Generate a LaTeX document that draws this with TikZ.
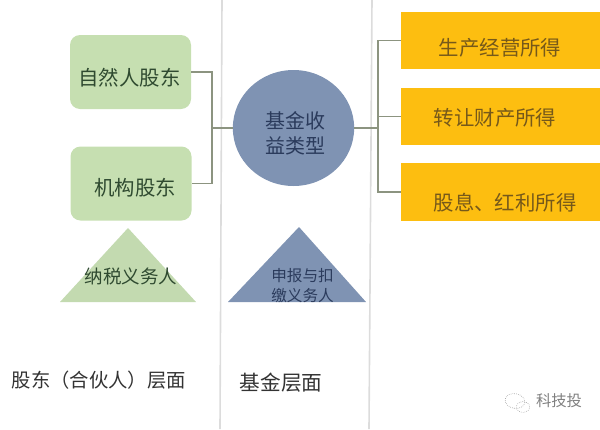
\documentclass[tikz,border=0pt]{standalone}
\usepackage{fontspec}
\setmainfont{Noto Sans CJK SC}
\usetikzlibrary{positioning, calc, shapes.geometric}

\definecolor{boxgreen}{HTML}{C6DFB1}
\definecolor{trigreen}{HTML}{C3DAB0}
\definecolor{textgreen}{HTML}{2F4A30}
\definecolor{fundblue}{HTML}{7F93B3}
\definecolor{textblue}{HTML}{2B3B5C}
\definecolor{incomeorange}{HTML}{FDBE10}
\definecolor{textorange}{HTML}{76591A}
\definecolor{linkgray}{HTML}{8C9480}
\definecolor{rulegray}{HTML}{DCDCDC}

\tikzset{
  holder/.style={fill=boxgreen, rounded corners=7.5pt, minimum width=90.75pt, minimum height=55.5pt, inner sep=0pt},
  income/.style={fill=incomeorange, minimum width=149.25pt, minimum height=43pt, inner sep=0pt},
  fund/.style={ellipse, fill=fundblue, minimum width=91pt, minimum height=87pt, inner sep=0pt},
  link/.style={draw=linkgray, line width=1.2pt},
  rule/.style={draw=rulegray, line width=1.2pt},
  word/.style={inner sep=0pt, font=\fontsize{15.3pt}{18pt}\selectfont, align=center}
}

\begin{document}
\begin{tikzpicture}[x=0.75pt, y=-0.75pt]
   \useasboundingbox (0,0) rectangle (600,429);

   % column rules
   \draw[rule] (222,0) -- (220,429);
   \draw[rule] (372,0) -- (369,429);

   % shareholders
   \node[holder] (ziran) at (130.5,72) {};
   \node[holder] (jigou) at (131,183.5) {};
   \node[word, textgreen] (zirantext) at (129.5,78) {自然人股东};
   \node[word, textgreen] (jigoutext) at (135,188) {机构股东};

   % fund
   \node[fund] (jijin) at (293.5,128) {};
   \node[word, textblue, font=\fontsize{15pt}{19pt}\selectfont] (jijintext) at (295.5,133) {基金收\\益类型};

   % income types
   \node[income] (jingying) at (500.5,40.5) {};
   \node[income] (zhuanrang) at (500.5,116.5) {};
   \node[income] (guxi) at (500.5,192) {};
   \node[word, textorange] (jingyingtext) at (500,48) {生产经营所得};
   \node[word, textorange] (zhuanrangtext) at (495,118) {转让财产所得};
   \node[word, textorange] (guxitext) at (505,203) {股息、红利所得};

   % joints
   \coordinate (jleft) at (212,128);
   \coordinate (jright) at (378,128);

   \draw[link] (ziran.east) -| (jleft) |- (jigou.east);
   \draw[link] (jleft) -- (jijin.west);
   \draw[link] (jijin.east) -- (jright);
   \draw[link] (jingying.west) -| (jright) |- (guxi.west);
   \draw[link] (jright) |- (zhuanrang.west);

   % triangles
   \fill[trigreen] (60,302) -- (128,228) -- (196,302) -- cycle;
   \fill[fundblue] (228,302) -- (299,227) -- (366,302) -- cycle;
   \node[word, textgreen, font=\fontsize{13.9pt}{15pt}\selectfont] (nashui) at (131,276) {纳税义务人};
   \node[word, textblue, font=\fontsize{11.7pt}{15.5pt}\selectfont] (shenbao) at (302.5,285.5) {申报与扣\\缴义务人};

   % level captions
   \node[word, black!80, font=\fontsize{14.5pt}{15pt}\selectfont] (gudong) at (99,380) {股东（合伙人）层面};
   \node[word, black!80, font=\fontsize{15.5pt}{15pt}\selectfont] (jijinlevel) at (281,383) {基金层面};

   % mark
   \draw[gray, densely dotted, rotate around={-10:(515,401)}] (515,401) ellipse (7.5pt and 5.5pt);
   \draw[gray, densely dotted] (523,407) ellipse (5pt and 4pt);
   \node[word, gray, font=\fontsize{11.5pt}{14pt}\selectfont] (keji) at (559,401) {科技投};
\end{tikzpicture}
\end{document}
